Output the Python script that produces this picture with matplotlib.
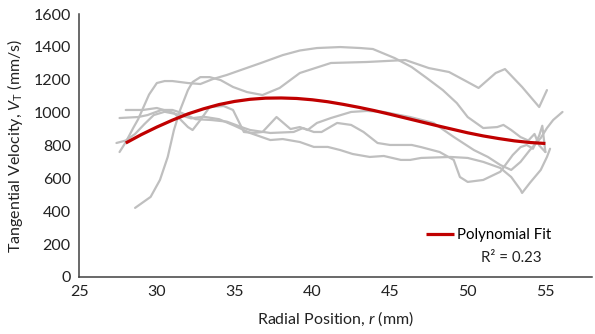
import matplotlib
matplotlib.use('Agg')
import numpy as np
from matplotlib import pyplot as plt

matplotlib.rc('font', **{'family': 'sans-serif', 'sans-serif': ['Lato', 'DejaVu Sans']})
plt.rcParams['mathtext.fontset'] = 'custom'
plt.rcParams['mathtext.rm'] = 'Lato'
plt.rcParams['mathtext.it'] = 'Lato:italic'

# gray measured profiles (radial position in mm, velocity in mm/s)
r1 = [27.6, 28.0, 28.5, 28.8, 29.2, 29.5, 30.0, 30.5, 31.0, 32.0, 32.8, 33.6, 34.5, 35.4, 36.7,
      38.1, 39.2, 40.3, 41.8, 43.1, 43.9, 45.3, 46.4, 47.3, 48.4, 49.3, 50.0, 51.0, 51.9, 52.3,
      52.8, 53.4, 53.9, 54.3, 54.6, 55.0]
v1 = [760, 820, 910, 960, 1046, 1110, 1180, 1192, 1192, 1180, 1174, 1204, 1229, 1259, 1302,
      1350, 1378, 1393, 1399, 1393, 1387, 1332, 1277, 1215, 1137, 1058, 973, 906, 912, 925,
      894, 851, 830, 870, 800, 760]

r2 = [28.6, 29.6, 30.2, 30.7, 31.1, 31.5, 32.0, 32.3, 32.8, 33.4, 34.1, 34.9, 35.8, 36.8, 37.9,
      39.2, 41.2, 43.5, 46.0, 47.5, 48.8, 50.0, 50.7, 51.8, 52.4, 53.5, 54.6, 55.1]
v2 = [420, 487, 590, 730, 894, 1016, 1137, 1186, 1216, 1216, 1198, 1156, 1125, 1107, 1150,
      1241, 1302, 1308, 1320, 1271, 1247, 1186, 1150, 1241, 1265, 1156, 1034, 1137]

r3 = [27.6, 28.8, 29.4, 30.3, 31.0, 31.6, 32.5, 33.5, 34.5, 35.5, 36.0, 37.3, 38.8, 39.4, 40.1,
      40.6, 41.6, 42.5, 43.3, 44.2, 45.0, 46.4, 47.0, 48.2, 49.1, 49.5, 50.0, 51.0, 52.1, 52.9,
      53.4, 53.8, 54.2, 54.6, 54.8, 55.0]
v3 = [967, 973, 985, 1016, 1016, 998, 960, 955, 945, 910, 894, 876, 882, 906, 882,
      882, 937, 925, 882, 815, 803, 803, 790, 760, 712, 608, 578, 590, 640, 742,
      790, 803, 780, 860, 920, 760]

r4 = [28.0, 29.1, 30.0, 31.1, 32.0, 32.3, 32.8, 33.4, 34.3, 34.9, 35.6, 36.2, 36.8, 37.7, 38.6,
      39.2, 39.7, 40.3, 41.2, 42.5, 43.5, 44.6, 46.3, 47.8, 49.1, 50.4, 51.3, 52.1, 52.8, 53.4,
      54.0, 54.7, 55.1, 55.5, 56.1]
v4 = [1016, 1016, 1028, 998, 912, 894, 955, 1034, 1040, 1016, 882, 876, 882, 973, 900,
      912, 894, 937, 967, 1004, 1010, 1004, 973, 937, 852, 772, 730, 681, 651, 700,
      772, 845, 906, 955, 1004]

r5 = [27.4, 28.0, 28.6, 29.2, 29.8, 30.5, 31.3, 32.2, 33.0, 34.0, 35.0, 36.0, 37.3, 38.1, 39.2,
      40.1, 41.0, 41.8, 42.6, 43.7, 44.6, 45.7, 46.3, 47.0, 48.9, 50.0, 51.0, 52.1, 52.8, 53.4,
      53.5, 54.0, 54.7, 55.1, 55.3]
v5 = [815, 830, 870, 930, 985, 1005, 990, 965, 975, 960, 920, 876, 833, 839, 821,
      791, 791, 772, 748, 730, 736, 712, 712, 724, 730, 724, 700, 663, 608, 530,
      511, 572, 651, 730, 780]

# polynomial trendline
fit_r = [28, 29, 30, 31, 32, 33, 34, 35, 36, 37, 38, 39, 40, 41, 42, 43, 44, 45, 46, 47, 48,
         49, 50, 51, 52, 53, 54, 55]
fit_v = [815, 866, 912, 954, 992, 1023, 1049, 1068, 1081, 1088, 1089, 1086, 1078, 1066, 1050,
         1032, 1012, 990, 967, 944, 921, 899, 877, 858, 842, 828, 818, 812]

xticks = [25, 30, 35, 40, 45, 50, 55]
yticks = [0, 200, 400, 600, 800, 1000, 1200, 1400, 1600]

fig = plt.figure(figsize=(5.95, 3.34), dpi=100)
ax = fig.add_axes([0.133, 0.171, 0.862, 0.787])

gray = '#BFBFBF'
for rr, vv in [(r1, v1), (r2, v2), (r3, v3), (r4, v4), (r5, v5)]:
    ax.plot(rr, vv, color=gray, lw=1.6, solid_capstyle='round', solid_joinstyle='round')

ax.plot(fit_r, fit_v, color='#C00000', lw=2.3, solid_capstyle='butt', solid_joinstyle='round',
        label='Polynomial Fit')

ax.set_xlim(25, 58)
ax.set_ylim(0, 1600)
ax.set_xticks(xticks)
ax.set_yticks(yticks)
ax.tick_params(length=0, labelsize=11.5, colors='#222222', pad=6)
for s in ['top', 'right']:
    ax.spines[s].set_visible(False)
for s in ['left', 'bottom']:
    ax.spines[s].set_color('#404040')
    ax.spines[s].set_linewidth(1.1)

ax.set_xlabel(r'Radial Position, $\mathit{r}$ (mm)', fontsize=11.5, labelpad=7, color='#222222')
ax.set_ylabel(r'Tangential Velocity, $\mathit{V}_\mathrm{T}$ (mm/s)', fontsize=11.5, labelpad=6,
              color='#222222')

ax.legend(loc='lower right', bbox_to_anchor=(0.933, 0.11), frameon=False, fontsize=10.8,
          handlelength=1.9, handletextpad=0.2, borderaxespad=0)
ax.text(52.8, 116, 'R² = 0.23', ha='center', va='center', fontsize=10.8, color='#222222')

fig.savefig('out.png', dpi=100)
